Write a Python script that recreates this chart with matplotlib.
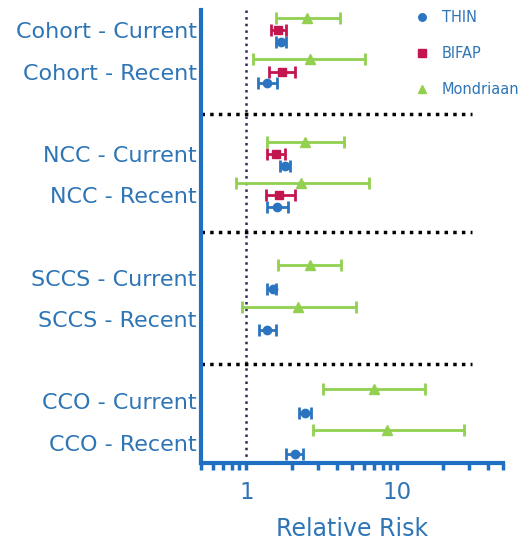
import matplotlib
matplotlib.use('Agg')
import matplotlib.pyplot as plt
import numpy as np
from matplotlib.ticker import LogLocator, FixedLocator, NullFormatter, FixedFormatter

#####################################################################
# data (relative risk, lower, upper):
row_labels = ['Cohort - Current', 'Cohort - Recent',
              'NCC - Current', 'NCC - Recent',
              'SCCS - Current', 'SCCS - Recent',
              'CCO - Current', 'CCO - Recent']
row_pos = [0, 1, 3, 4, 6, 7, 9, 10]
sep_pos = [2.02, 4.9, 8.1]

thin_rr = [1.70, 1.38, 1.81, 1.60, 1.49, 1.38, 2.46, 2.11]
thin_lo = [1.58, 1.20, 1.68, 1.36, 1.38, 1.22, 2.24, 1.84]
thin_hi = [1.84, 1.60, 1.96, 1.90, 1.58, 1.58, 2.70, 2.38]

bifap_rows = [0, 1, 2, 3]
bifap_rr = [1.63, 1.73, 1.58, 1.65]
bifap_lo = [1.46, 1.42, 1.38, 1.34]
bifap_hi = [1.84, 2.11, 1.81, 2.11]

mond_rr = [2.54, 2.65, 2.46, 2.31, 2.65, 2.21, 7.04, 8.59]
mond_lo = [1.58, 1.11, 1.38, 0.85, 1.63, 0.93, 3.24, 2.78]
mond_hi = [4.19, 6.14, 4.46, 6.53, 4.26, 5.35, 15.3, 27.4]

#####################################################################
# colours:
c_thin = '#2b74bf'
c_bifap = '#c3164f'
c_mond = '#92d050'
c_axis = '#1f6fc2'
c_text = '#2e75b6'

fig = plt.figure(figsize=(5.30, 5.43), dpi=100)
ax = fig.add_axes([0.379, 0.147, 0.570, 0.835])


def draw(rows, rr, lo, hi, offset, color, marker, ms, label):
    y = np.array([row_pos[i] for i in rows]) + offset
    rr = np.array(rr)
    err = [rr - np.array(lo), np.array(hi) - rr]
    ax.errorbar(rr, y, xerr=err, fmt=marker, color=color, ecolor=color,
                elinewidth=2, capsize=4, capthick=2, markersize=ms,
                label=label, zorder=3)


draw(range(8), thin_rr, thin_lo, thin_hi, 0.28, c_thin, 'o', 6, 'THIN')
draw(bifap_rows, bifap_rr, bifap_lo, bifap_hi, 0.0, c_bifap, 's', 6, 'BIFAP')
draw(range(8), mond_rr, mond_lo, mond_hi, -0.3, c_mond, '^', 7, 'Mondriaan')

# reference line and group separators:
ax.axvline(1, color='#2c2a5e', linestyle=':', linewidth=1.8, zorder=1)
for s in sep_pos:
    ax.plot([0.5, 31], [s, s], color='black', linestyle=(0, (1, 1.5)),
            linewidth=2.5, zorder=2)

#####################################################################
# format:
ax.set_xscale('log')
ax.set_xlim(0.5, 50)
ax.set_ylim(10.5, -0.5)

ax.set_yticks(row_pos)
ax.set_yticklabels(row_labels, fontsize=16, color=c_text)
ax.tick_params(axis='y', length=0, pad=3)

ax.xaxis.set_major_locator(FixedLocator([1, 10]))
ax.xaxis.set_major_formatter(FixedFormatter(['1', '10']))
ax.xaxis.set_minor_locator(LogLocator(base=10, subs=np.arange(2, 10)))
ax.xaxis.set_minor_formatter(NullFormatter())
ax.tick_params(axis='x', which='both', direction='out', length=5, width=2.5,
               color=c_axis, labelsize=16.5, labelcolor=c_text, pad=8)
ax.set_xlabel('Relative Risk', fontsize=17, color=c_text, labelpad=9)

for side in ['top', 'right']:
    ax.spines[side].set_visible(False)
for side in ['left', 'bottom']:
    ax.spines[side].set_color(c_axis)
    ax.spines[side].set_linewidth(3)

handles, labels = ax.get_legend_handles_labels()
leg = ax.legend([h[0] for h in handles], labels, loc='upper left',
                bbox_to_anchor=(0.755, 1.006), bbox_transform=fig.transFigure,
                frameon=False, fontsize=10.5, markerscale=0.9,
                labelspacing=1.45, handletextpad=0.75, handlelength=1.2)
for t in leg.get_texts():
    t.set_color(c_text)

fig.savefig('out.png', dpi=100)
